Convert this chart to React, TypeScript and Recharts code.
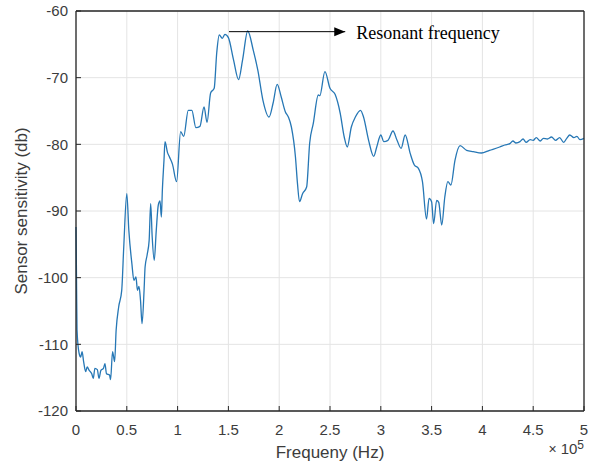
import React from 'react';
import {
    LineChart,
    Line,
    XAxis,
    YAxis,
    CartesianGrid,
    ReferenceLine,
} from 'recharts';

// frequency in units of 1e5 Hz
const FREQ = [
    0, 0.005, 0.01, 0.03, 0.046, 0.06, 0.075, 0.095, 0.11, 0.13, 0.155, 0.17, 0.186, 0.21, 0.226, 0.245,
    0.27, 0.285, 0.3, 0.33, 0.34, 0.36, 0.38, 0.395, 0.42, 0.45, 0.47, 0.5, 0.52, 0.55, 0.57, 0.59,
    0.605, 0.62, 0.635, 0.65, 0.67, 0.68, 0.7, 0.72, 0.735, 0.75, 0.77, 0.79, 0.81, 0.827, 0.84, 0.85,
    0.866, 0.876, 0.9, 0.92, 0.95, 0.99, 1.03, 1.06, 1.105, 1.14, 1.18, 1.22, 1.26, 1.29, 1.325, 1.36,
    1.385, 1.41, 1.44, 1.466, 1.5, 1.55, 1.6, 1.64, 1.69, 1.745, 1.79, 1.84, 1.9, 1.94, 1.98, 2.02,
    2.06, 2.09, 2.12, 2.16, 2.18, 2.2, 2.23, 2.27, 2.3, 2.335, 2.385, 2.4, 2.45, 2.5, 2.55, 2.6,
    2.64, 2.67, 2.71, 2.75, 2.8, 2.83, 2.88, 2.93, 2.96, 3.0, 3.03, 3.07, 3.12, 3.16, 3.2, 3.24,
    3.29, 3.33, 3.37, 3.41, 3.45, 3.475, 3.5, 3.52, 3.55, 3.57, 3.6, 3.63, 3.66, 3.69, 3.73, 3.78,
    3.845, 3.91, 3.99, 4.07, 4.17, 4.22, 4.27, 4.3, 4.33, 4.37, 4.4, 4.43, 4.47, 4.5, 4.53, 4.57,
    4.6, 4.64, 4.68, 4.72, 4.76, 4.8, 4.83, 4.86, 4.9, 4.93, 4.96, 5.0,
];

const SENSITIVITY = [
    -92.4, -100, -107.8, -111.3, -111.9, -111.1, -112.6, -114.1, -113.4, -113.9, -114.4, -115.1, -113.6, -113.8, -115.1, -113.9,
    -113.6, -112.9, -114.4, -114.6, -115.3, -111.1, -112.6, -107.9, -104.4, -101.9, -95.4, -87.4, -92.9, -97.9, -100.4, -99.9,
    -101.9, -101.3, -103.4, -106.9, -101.9, -98.4, -96.6, -94.4, -88.9, -93.9, -97.4, -92.9, -89.1, -88.5, -90.9, -86.9,
    -82.4, -79.6, -81.2, -81.9, -83, -85.6, -78.1, -78.8, -74.9, -74.9, -77.5, -77.3, -74.4, -76.7, -72.3, -71.6,
    -66.3, -63.6, -64.1, -63.5, -64, -67.3, -70.3, -67.3, -63, -65.9, -68.9, -73.4, -75.9, -73.8, -71, -72.9,
    -75.1, -75.9, -77.4, -81.9, -85.9, -88.6, -87.4, -86.4, -79.8, -76.9, -72.6, -72.7, -69.1, -71.6, -72.5, -75.3,
    -78.9, -80.4, -77.4, -75.9, -74.9, -75.9, -79.4, -81.8, -80.4, -78.6, -79.6, -79.4, -78, -79.4, -80.6, -78.6,
    -81.4, -83.1, -83.6, -85.6, -91.2, -88.1, -88.6, -91.9, -88.4, -88.7, -92.1, -87.9, -85.6, -86.1, -82.4, -80.2,
    -80.9, -81.1, -81.3, -80.9, -80.4, -80.1, -79.9, -79.5, -79.8, -79.6, -79.2, -79.7, -79.3, -79.4, -79.0, -79.5,
    -79.1, -79.2, -78.9, -79.4, -79.0, -79.7, -79.1, -78.6, -79.0, -78.8, -79.3, -79.1,
];

const X_TICKS = [0, 0.5, 1, 1.5, 2, 2.5, 3, 3.5, 4, 4.5, 5];
const Y_TICKS = [-120, -110, -100, -90, -80, -70, -60];
const X_DOMAIN = [0, 5];
const Y_DOMAIN = [-120, -60];

const ARROW_FROM = { x: 1.506, y: -63.1 };
const ARROW_TO = { x: 2.65, y: -63.1 };
const ANNOTATION = 'Resonant frequency';

const data = FREQ.map((x, i) => ({ x, y: SENSITIVITY[i] }));

const AXIS_COLOR = '#262626';
const TEXT_COLOR = '#3c3c3c';
const FONT = '"Liberation Sans", Arial, sans-serif';
const BOX_LINE = { stroke: AXIS_COLOR, strokeWidth: 1.3 };

const ArrowLabel = (props: any) => {
    const { viewBox } = props;
    const endX = viewBox.x + viewBox.width;
    const cy = viewBox.y;
    return (
        <g>
            <polygon points={`${endX},${cy} ${endX - 11},${cy - 4.5} ${endX - 11},${cy + 4.5}`} fill="#000" />
            <text
                x={endX + 11}
                y={cy + 7}
                fontSize={18}
                fill="#000"
                style={{ fontFamily: '"Liberation Serif", "Times New Roman", serif' }}
            >
                {ANNOTATION}
            </text>
        </g>
    );
};

const XLabel = (props: any) => {
    const { viewBox } = props;
    return (
        <g>
            <text x={viewBox.x + viewBox.width / 2} y={viewBox.y + 47} textAnchor="middle" fontSize={17} fill={TEXT_COLOR}>
                Frequeny (Hz)
            </text>
            <text x={viewBox.x + viewBox.width} y={viewBox.y + 43} textAnchor="end" fill={TEXT_COLOR}>
                <tspan fontSize={14}>× </tspan>
                <tspan fontSize={15}>10</tspan>
                <tspan fontSize={12} dy={-5}>5</tspan>
            </text>
        </g>
    );
};

const YLabel = (props: any) => {
    const { viewBox } = props;
    const cx = viewBox.x + 21;
    const cy = viewBox.y + viewBox.height / 2;
    return (
        <text
            x={cx}
            y={cy}
            transform={`rotate(-90, ${cx}, ${cy})`}
            textAnchor="middle"
            dominantBaseline="central"
            fontSize={17}
            fill={TEXT_COLOR}
        >
            Sensor sensitivity (db)
        </text>
    );
};

export default function App() {
    return (
        <div style={{ position: 'absolute', left: 0, top: 0, background: '#fff', fontFamily: FONT }}>
            <LineChart width={598} height={463} data={data} margin={{ top: 10, right: 13, bottom: 0, left: 0 }}>
                <CartesianGrid stroke="#e4e4e4" strokeWidth={1} />
                <XAxis
                    dataKey="x"
                    type="number"
                    domain={X_DOMAIN}
                    ticks={X_TICKS}
                    interval={0}
                    height={52}
                    axisLine={BOX_LINE}
                    tickLine={{ stroke: AXIS_COLOR }}
                    tickSize={-5}
                    tickMargin={18}
                    tick={{ fontSize: 15, fill: TEXT_COLOR }}
                    label={<XLabel />}
                />
                <XAxis
                    xAxisId="top"
                    orientation="top"
                    dataKey="x"
                    type="number"
                    domain={X_DOMAIN}
                    ticks={X_TICKS}
                    interval={0}
                    height={1}
                    axisLine={BOX_LINE}
                    tickLine={false}
                    tick={false}
                />
                <YAxis
                    type="number"
                    domain={Y_DOMAIN}
                    ticks={Y_TICKS}
                    interval={0}
                    width={76}
                    axisLine={BOX_LINE}
                    tickLine={{ stroke: AXIS_COLOR }}
                    tickSize={-5}
                    tickMargin={13}
                    tick={{ fontSize: 15, fill: TEXT_COLOR }}
                    label={<YLabel />}
                />
                <YAxis
                    yAxisId="right"
                    orientation="right"
                    type="number"
                    domain={Y_DOMAIN}
                    ticks={Y_TICKS}
                    interval={0}
                    width={1}
                    axisLine={BOX_LINE}
                    tickLine={false}
                    tick={false}
                />
                <Line
                    type="monotone"
                    dataKey="y"
                    stroke="#2677b5"
                    strokeWidth={1.3}
                    dot={false}
                    isAnimationActive={false}
                />
                <ReferenceLine
                    segment={[ARROW_FROM, ARROW_TO]}
                    stroke="#000"
                    strokeWidth={1}
                    label={<ArrowLabel />}
                />
            </LineChart>
        </div>
    );
}
